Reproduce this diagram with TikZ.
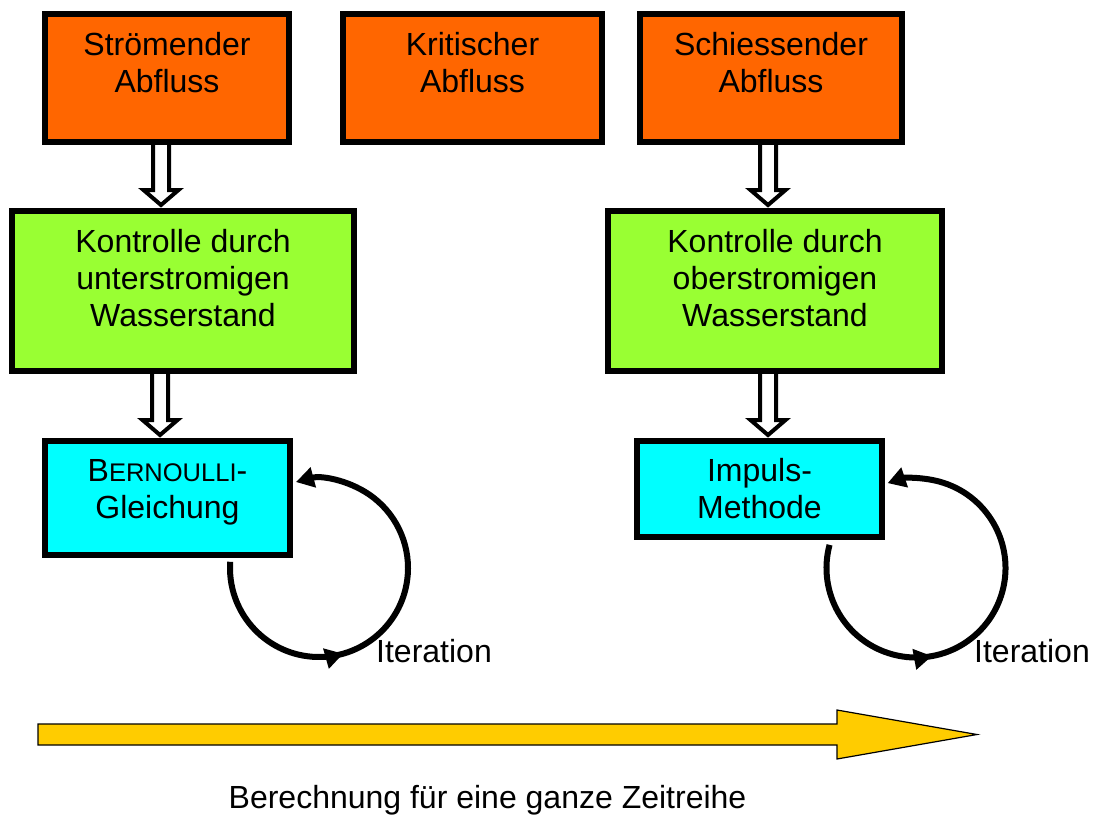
\documentclass[tikz,border=0pt]{standalone}
\usepackage{fontspec}
\setmainfont{Liberation Sans}
\usetikzlibrary{calc,arrows.meta,decorations.markings}

\definecolor{floworange}{RGB}{255,102,0}
\definecolor{controlgreen}{RGB}{153,255,51}
\definecolor{methodcyan}{RGB}{0,255,255}
\definecolor{timeyellow}{RGB}{255,204,0}

\pgfdeclarelayer{behind}
\pgfsetlayers{behind,main}

\tikzset{looptip/.tip={Triangle[length=18pt,width=20pt]}}

% hollow block arrow from the bottom of #1 down to the top of #2, shifted by #3 in x
\newcommand\hollowdown[3]{%
  \coordinate (ha) at ($(#1.south)+(#3,0)$);
  \coordinate (hb) at ($(ha |- #2.north)+(0,3)$);
  \draw[hollow] ($(ha)+(-8,0)$) -- ($(hb)+(-8,15)$) -- ($(hb)+(-17.5,15)$)
    -- (hb) -- ($(hb)+(17.5,15)$) -- ($(hb)+(8,15)$) -- ($(ha)+(8,0)$);
}

\begin{document}
\begin{tikzpicture}[x=1pt,y=1pt,
  box/.style={draw=black, line width=6pt, inner sep=0pt},
  flowbox/.style={box, fill=floworange, minimum height=128pt},
  controlbox/.style={box, fill=controlgreen, minimum height=160pt},
  methodbox/.style={box, fill=methodcyan, minimum width=245pt},
  boxtext/.style={font=\fontsize{32}{37}\selectfont, align=center, inner sep=0pt,
    anchor=north},
  hollow/.style={draw=black, fill=white, line width=4pt, line join=miter},
  iterloop/.style={draw=black, line width=6pt, -looptip, postaction={decorate}},
  label/.style={font=\fontsize{32}{37}\selectfont, inner sep=0pt},
]
\useasboundingbox (0,0) rectangle (1094,-814);

% kinds of flow
\node[flowbox, minimum width=244pt] (stroem) at (167,-78) {};
\node[flowbox, minimum width=259pt] (krit) at (472.5,-78) {};
\node[flowbox, minimum width=262pt] (schiess) at (771,-78) {};
\node[boxtext] (stroemT) at ($(stroem.north)+(0,-20)$) {\rule{0pt}{24pt}Strömender\\Abfluss};
\node[boxtext] (kritT) at ($(krit.north)+(0,-20)$) {\rule{0pt}{24pt}Kritischer\\Abfluss};
\node[boxtext] (schiessT) at ($(schiess.north)+(0,-20)$) {\rule{0pt}{24pt}Schiessender\\Abfluss};

% controlling water level
\node[controlbox, minimum width=342pt] (kontrU) at (183,-291) {};
\node[controlbox, minimum width=334pt] (kontrO) at (775,-291) {};
\node[boxtext] (kontrUT) at ($(kontrU.north)+(0,-20)$)
  {\rule{0pt}{24pt}Kontrolle durch\\unterstromigen\\Wasserstand};
\node[boxtext] (kontrOT) at ($(kontrO.north)+(0,-20)$)
  {\rule{0pt}{24pt}Kontrolle durch\\oberstromigen\\Wasserstand};

% computation methods
\node[methodbox, minimum height=114pt] (bern) at (167.5,-498) {};
\node[methodbox, minimum height=96pt] (impuls) at (759.5,-489) {};
\node[boxtext] (bernT) at ($(bern.north)+(0,-19)$)
  {\rule{0pt}{24pt}B{\fontsize{25.5}{37}\selectfont ERNOULLI}-\\Gleichung};
\node[boxtext] (impulsT) at ($(impuls.north)+(0,-19)$)
  {\rule{0pt}{24pt}Impuls-\\Methode};

\begin{pgfonlayer}{behind}
% hollow arrows
\hollowdown{stroem}{kontrU}{-6}
\hollowdown{kontrU}{bern}{-23}
\hollowdown{schiess}{kontrO}{-3}
\hollowdown{kontrO}{impuls}{-7}

% iteration loops
\coordinate (loopL) at ($(bern.south east)+(26,-10)$);
\coordinate (loopR) at ($(impuls.south east)+(31,-28)$);
\draw[iterloop, decoration={markings, mark=at position 0.38 with {\arrow{looptip}}}]
  (loopL) ++(176:89) arc[start angle=176, end angle=465, radius=89];
\draw[iterloop, decoration={markings, mark=at position 0.38 with {\arrow{looptip}}}]
  (loopR) ++(165:89.5) arc[start angle=165, end angle=468.5, radius=89.5];
\end{pgfonlayer}
\node[label] (iterL) at (434,-651) {Iteration};
\node[label] (iterR) at (1032,-651) {Iteration};

% time axis arrow
\draw[fill=timeyellow, draw=black, line width=1.2pt, line join=miter]
  (38,-724) -- (837,-724) -- (837,-710) -- (977,-734.5) -- (837,-759)
  -- (837,-745) -- (38,-745) -- cycle;
\node[label, anchor=base] (zeit) at (487.5,-808) {Berechnung für eine ganze Zeitreihe};
\end{tikzpicture}
\end{document}
